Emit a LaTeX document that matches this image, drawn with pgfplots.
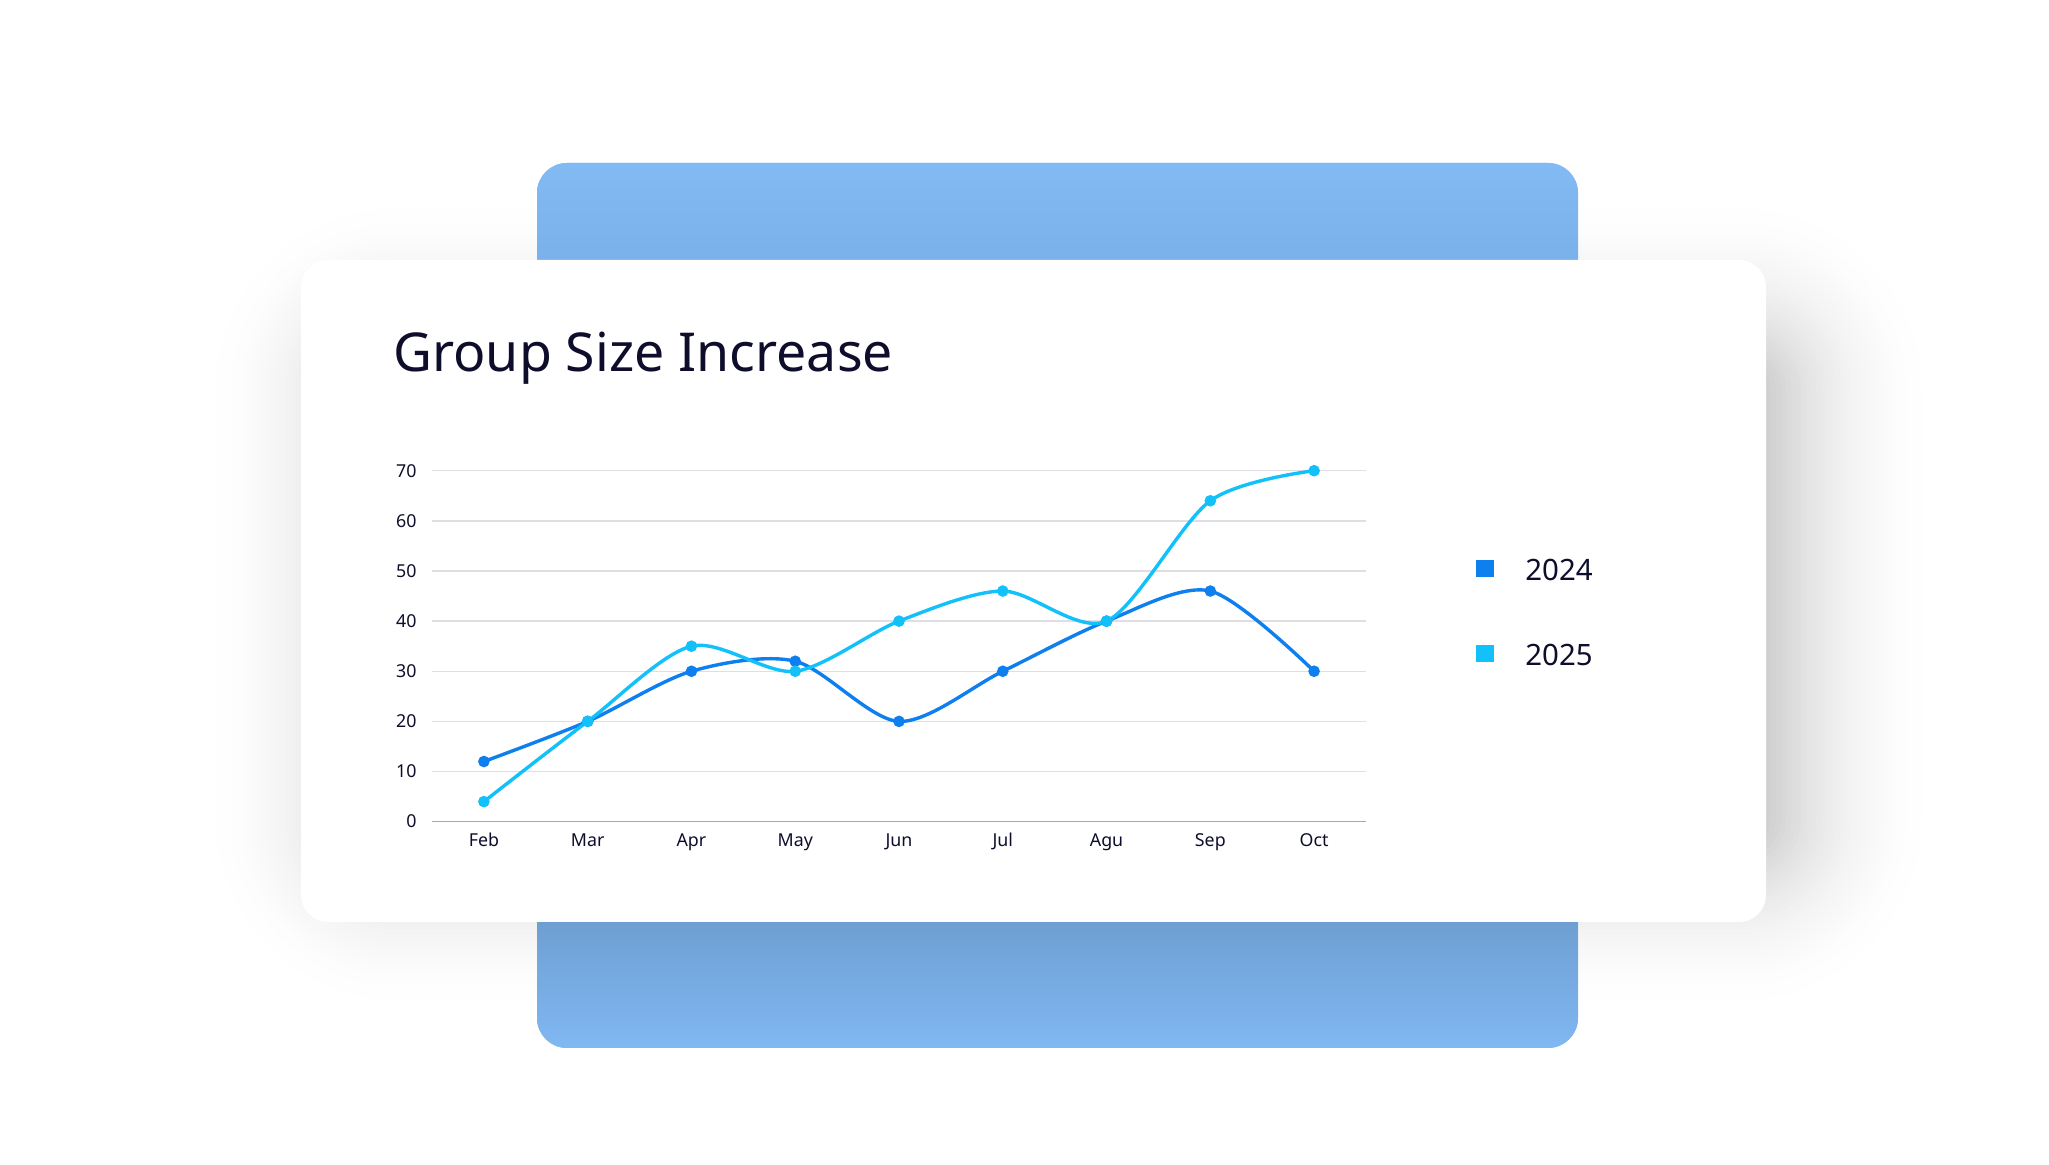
\documentclass[border=0pt]{standalone}
\usepackage{fontspec}
\setmainfont{Noto Sans}
\usepackage{pgfplots}
\pgfplotsset{compat=1.18}
\definecolor{navy}{HTML}{0E0E2C}
\definecolor{c2024}{HTML}{0E7FEF}
\definecolor{c2025}{HTML}{12C0FA}
\definecolor{cardblue}{HTML}{82BAF4}
\definecolor{cardbluetopdark}{HTML}{7AB1EA}
\definecolor{cardbluebotdark}{HTML}{6E9FD3}
\definecolor{cardbluebot}{HTML}{80B8F2}
\definecolor{gridc}{HTML}{DEDEE4}
\definecolor{axisc}{HTML}{A8A8B0}
\begin{document}
\begin{tikzpicture}[x=0.5pt,y=0.5pt]
% page
\fill[white] (0,0) rectangle (2049,1165);
% soft shadow of the white card (opaque layers, outermost first)
\foreach \k in {34,33,...,1}{
  \pgfmathsetmacro{\dk}{19*(1-(\k-0.5)/34)^2}
  \pgfmathsetmacro{\rc}{13.5+\k*2.5}
  \fill[black!\dk, rounded corners=\rc pt]
    ({371-\k*5},{320-\k*5}) rectangle ({1766+\k*5},{801+\k*5});
}
% blue back card
\fill[cardblue, rounded corners=15pt] (537,117) rectangle (1578,1002);
\begin{scope}
  \clip[rounded corners=15pt] (537,117) rectangle (1578,1002);
  \shade[top color=cardblue, bottom color=cardbluetopdark] (537,905) rectangle (1578,1002);
  \shade[top color=cardbluebotdark, bottom color=cardbluebot] (537,117) rectangle (1578,243);
\end{scope}
% white card
\fill[white, rounded corners=13.5pt] (301,243) rectangle (1766,905);
% title
\node[anchor=base west, inner sep=0pt, text=navy, font=\fontsize{26.8pt}{33pt}\selectfont] at (393,793) {Group Size Increase};
\begin{axis}[
  at={(216pt,171.65pt)}, anchor=south west,
  scale only axis, width=467pt, height=175.5pt,
  xmin=-0.5, xmax=8.5, ymin=0, ymax=70,
  xtick={0,...,8},
  xticklabels={Feb,Mar,Apr,May,Jun,Jul,Agu,Sep,Oct},
  ytick={0,10,...,70},
  axis lines*=left,
  y axis line style={draw=none},
  x axis line style={draw=axisc, line width=0.8pt},
  major tick length=0pt,
  ymajorgrids, grid style={draw=gridc, line width=0.7pt},
  /pgf/number format/assume math mode=true,
  tick label style={font=\fontsize{8.9pt}{10pt}\selectfont, text=navy, inner sep=0pt, text depth=0pt, text height=6.3pt},
  xticklabel style={anchor=north, yshift=-5.9pt},
  yticklabel style={anchor=east, xshift=-7.5pt},
  clip=false,
  legend style={at={(1.1178,0.7484)}, anchor=north west, draw=none, fill=none, inner sep=0pt,
    row sep=32.1pt, column sep=15.5pt,
    font=\fontsize{14.7pt}{16pt}\selectfont, text=navy,
    nodes={inner sep=0pt, text height=10.5pt, text depth=0pt}},
  legend cell align=left,
  legend image code/.code={\fill[#1, draw=none] (0pt,-3.5pt) rectangle (9pt,5pt);},
]
\addplot[color=c2024, line width=1.7pt, smooth, tension=0.5, mark=*, mark size=2pt, mark options={solid}]
  coordinates {(0,12) (1,20) (2,30) (3,32) (4,20) (5,30) (6,40) (7,46) (8,30)};
\addlegendentry{2024}
\addplot[color=c2025, line width=1.7pt, smooth, tension=0.5, mark=*, mark size=2pt, mark options={solid}]
  coordinates {(0,4) (1,20) (2,35) (3,30) (4,40) (5,46) (6,40) (7,64) (8,70)};
\addlegendentry{2025}
\end{axis}
\end{tikzpicture}
\end{document}
